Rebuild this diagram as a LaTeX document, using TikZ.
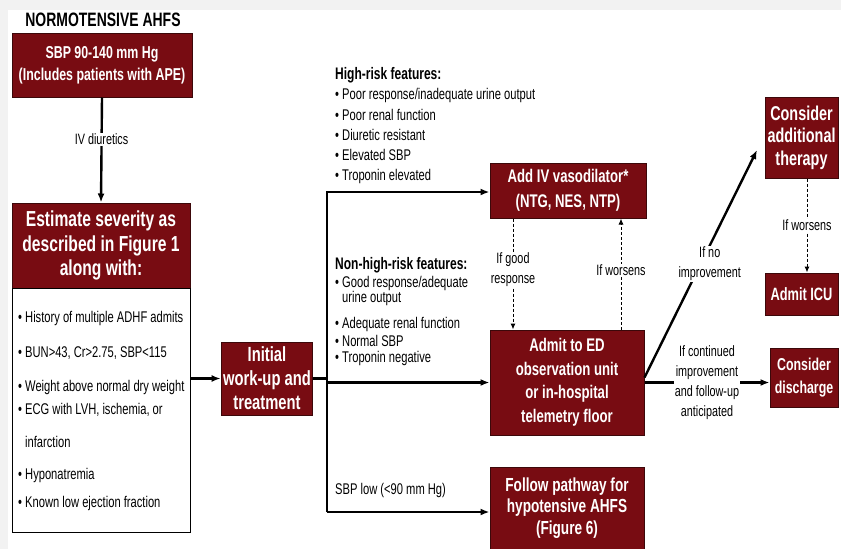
\documentclass[tikz,border=0pt]{standalone}
\usepackage{fontspec}
\setmainfont{Liberation Sans}[FakeStretch=0.72]
\usetikzlibrary{arrows.meta}
\definecolor{boxred}{RGB}{120,12,18}
\definecolor{edgered}{RGB}{60,8,10}
\tikzset{
  redbox/.style={fill=boxred,draw=edgered,line width=1pt,text=white,align=center,inner sep=2pt,
    font=\fontsize{17.8}{22}\selectfont\bfseries},
  flow/.style={line width=2.4pt,-{Latex[length=9pt,width=7pt]}},
  ifline/.style={dash pattern=on 3pt off 2pt,line width=1pt,-{Latex[length=6pt,width=5pt]}},
  note/.style={font=\fontsize{15}{20}\selectfont,align=center,fill=white,inner sep=1pt},
  bullet/.style={anchor=west,font=\fontsize{15.5}{17}\selectfont,inner sep=0pt},
  heading/.style={anchor=west,font=\fontsize{16.7}{17}\selectfont\bfseries,inner sep=0pt},
}
\begin{document}
\begin{tikzpicture}[x=1pt,y=-1pt,line join=miter]
\useasboundingbox (0,0) rectangle (841,549);
\fill[black!5] (0,0) rectangle (841,10);
\fill[black!5] (0,0) rectangle (8,549);
% left column
\node[font=\fontsize{19.4}{20}\selectfont\bfseries,inner sep=0pt] (title) at (103,20) {NORMOTENSIVE AHFS};
\node[redbox,minimum width=180,minimum height=64,font=\fontsize{17.2}{22}\selectfont\bfseries] (sbp) at (102,65) {SBP 90-140 mm Hg\\(Includes patients with APE)};
\node[redbox,minimum width=178,minimum height=85,font=\fontsize{21.7}{24.5}\selectfont\bfseries] (estimate) at (101,245.5) {Estimate severity as\\described in Figure 1\\along with:};
\node[draw,line width=1pt,minimum width=178,minimum height=244,inner sep=0pt] (estbody) at (101,410) {};
\foreach \yy/\txt in {318/{\textbullet\ History of multiple ADHF admits},353/{\textbullet\ BUN>43, Cr>2.75, SBP<115},
  387/{\textbullet\ Weight above normal dry weight},410/{\textbullet\ ECG with LVH, ischemia, or},
  442/{\phantom{\textbullet\ }infarction},475/{\textbullet\ Hyponatremia},503/{\textbullet\ Known low ejection fraction}}
  {\node[bullet] (sev-\yy) at (18,\yy) {\txt};}
\node[redbox,minimum width=88,minimum height=73,font=\fontsize{20.5}{24}\selectfont\bfseries] (init) at (267,378.5) {Initial\\work-up and\\treatment};
% middle column
\node[redbox,minimum width=156,minimum height=55,font=\fontsize{18.3}{25}\selectfont\bfseries] (addiv) at (568,190.5) {Add IV vasodilator*\\(NTG, NES, NTP)};
\node[redbox,minimum width=154,minimum height=105,font=\fontsize{18.3}{23.5}\selectfont\bfseries] (admit) at (567,382.5) {Admit to ED\\observation unit\\or in-hospital\\telemetry floor};
\node[redbox,minimum width=154,minimum height=82,font=\fontsize{18.9}{21.5}\selectfont\bfseries] (follow) at (567,508) {Follow pathway for\\hypotensive AHFS\\(Figure 6)};
\node[heading] (hrisk) at (335,75) {High-risk features:};
\foreach \yy/\txt in {95/{Poor response/inadequate urine output},115/{Poor renal function},
  135/{Diuretic resistant},155/{Elevated SBP},176/{Troponin elevated}}
  {\node[bullet] (hr-\yy) at (335,\yy) {\textbullet\ \txt};}
\node[heading] (nhrisk) at (335,265) {Non-high-risk features:};
\foreach \yy/\txt in {283/{\textbullet\ Good response/adequate},298/{\phantom{\textbullet\ }urine output},
  324/{\textbullet\ Adequate renal function},341/{\textbullet\ Normal SBP},358/{\textbullet\ Troponin negative}}
  {\node[bullet] (nhr-\yy) at (335,\yy) {\txt};}
\node[bullet] (sbplow) at (335,490) {SBP low (<90 mm Hg)};
% right column
\node[redbox,minimum width=73,minimum height=81,font=\fontsize{20}{22.5}\selectfont\bfseries] (addl) at (801.5,137.5) {Consider\\additional\\therapy};
\node[redbox,minimum width=73,minimum height=42,font=\fontsize{17.8}{22}\selectfont\bfseries] (icu) at (801.5,294) {Admit ICU};
\node[redbox,minimum width=68,minimum height=59,font=\fontsize{17.2}{23}\selectfont\bfseries] (discharge) at (804,377.5) {Consider\\discharge};
% connectors
\coordinate (jtop) at (327,192);
\coordinate (jbot) at (327,512);
\coordinate (noimp) at (757,150);
\draw[flow] (sbp.south) -- (estimate.north) node[note,pos=0.4] {IV diuretics};
\draw[flow] (estbody.east |- init.west) -- (init.west);
\draw[line width=2.4pt] (init.east) -- (init.east -| jtop);
\draw[flow] (jbot) |- (jtop -| addiv.west);
\draw[flow] (jbot) -- (jbot -| follow.west);
\draw[flow] (admit.west -| jtop) -- (admit.west);
\draw[ifline] ([xshift=-55pt]addiv.south) -- ([xshift=-54pt]admit.north) node[note,midway,yshift=4pt] {If good\\response};
\draw[ifline] ([xshift=54pt]admit.north) -- ([xshift=53pt]addiv.south) node[note,midway,yshift=4pt] {If worsens};
\draw[flow] ([yshift=5pt]admit.east) -- (noimp) node[note,pos=0.5,xshift=9pt] {If no\\improvement};
\draw[flow] (admit.east) -- (admit.east -| discharge.west) node[note,midway] {If continued\\improvement\\and follow-up\\anticipated};
\draw[ifline] ([xshift=5.5pt]addl.south) -- ([xshift=5.5pt]icu.north) node[note,midway] {If worsens};
\end{tikzpicture}
\end{document}
